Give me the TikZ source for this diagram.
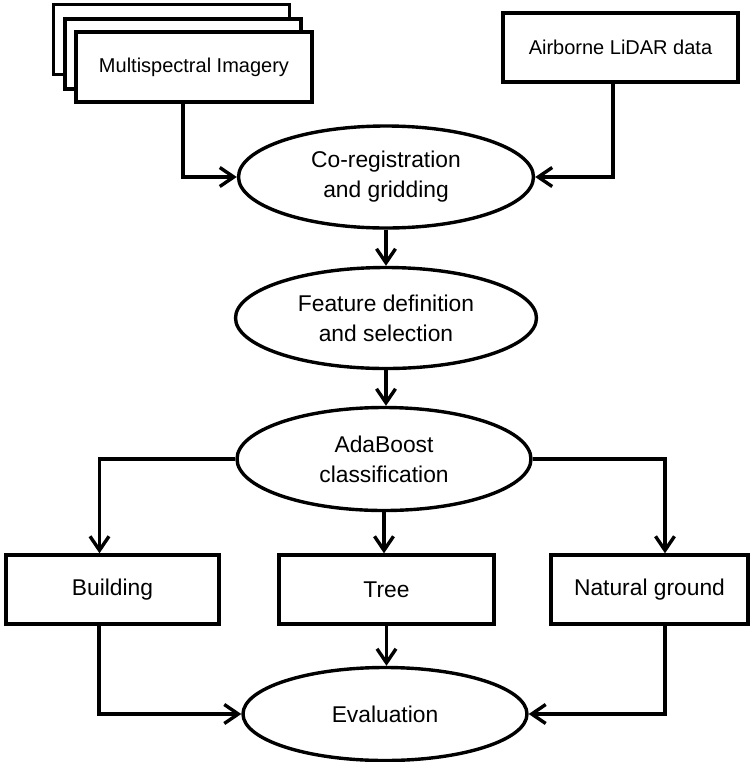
\documentclass[tikz,border=0pt]{standalone}
\usepackage{fontspec}
\setmainfont{Liberation Sans}
\usepackage{tikz}
\usetikzlibrary{positioning,shapes.geometric,arrows.meta}

\tikzset{
  databox/.style={draw, rectangle, fill=white, line width=1.7pt, inner sep=0pt,
    minimum width=118pt, minimum height=35pt, font=\fontsize{10}{12}\selectfont},
  classbox/.style={draw, rectangle, fill=white, line width=1.7pt, inner sep=0pt,
    minimum height=34.5pt, font=\fontsize{11.4}{14}\selectfont},
  procnode/.style={draw, ellipse, fill=white, line width=1.7pt, inner sep=0pt,
    align=center, font=\fontsize{11.4}{15}\selectfont},
  flow/.style={line width=1.7pt, -{Straight Barb[length=7pt,width=9.5pt]}}
}

\begin{document}
\begin{tikzpicture}[x=0.5pt, y=-0.5pt]
  \useasboundingbox (0,0) rectangle (756,762);

  % --- inputs ---
  \node[databox] (multiC) at (171.5,39.5) {};
  \node[databox] (multiB) at (183,54) {};
  \node[databox] (multi) at (194,67) {Multispectral Imagery};
  \node[databox, minimum width=117.5pt, minimum height=34.5pt] (lidar) at (620.5,47.5)
    {Airborne LiDAR data};

  % --- processing chain ---
  \node[procnode, minimum width=147.5pt, minimum height=51pt] (coreg) at (386,177)
    {Co-registration\\and gridding};
  \node[procnode, minimum width=150.5pt, minimum height=50.5pt] (featsel) at (386,318)
    {Feature definition\\ and selection};
  \node[procnode, minimum width=147pt, minimum height=51.5pt] (ada) at (384,459)
    {AdaBoost\\classification};

  % --- classes ---
  \node[classbox, minimum width=106.5pt] (build) at (112.5,589.5) {Building};
  \node[classbox, minimum width=107.5pt] (tree) at (386.5,589.5) {Tree};
  \node[classbox, minimum width=98.5pt] (ground) at (649.5,589.5) {Natural ground};

  \node[procnode, minimum width=142pt, minimum height=46.5pt] (eval) at (385,714)
    {Evaluation};

  % --- connectors ---
  \draw[flow] ([xshift=-5.5pt]multi.south) |- (coreg.west);
  \draw[flow] ([xshift=-3.75pt]lidar.south) |- (coreg.east);
  \draw[flow] (coreg.south) -- (featsel.north);
  \draw[flow] (featsel.south) -- (featsel.south |- ada.north);
  \draw[flow] (ada.west) -| ([xshift=-6.5pt]build.north);
  \draw[flow] (ada.south) -- (ada.south |- tree.north);
  \draw[flow] (ada.east) -| ([xshift=7.75pt]ground.north);
  \draw[flow] ([xshift=-6.75pt]build.south) |- (eval.west);
  \draw[flow] (tree.south) -- (tree.south |- eval.north);
  \draw[flow] ([xshift=7.75pt]ground.south) |- (eval.east);
\end{tikzpicture}
\end{document}
